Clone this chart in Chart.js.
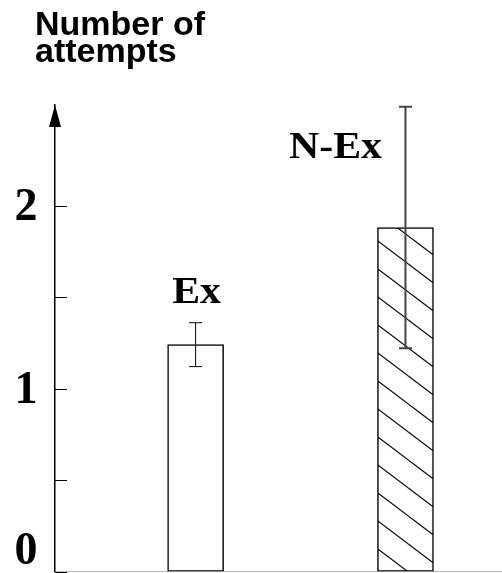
<!DOCTYPE html>
<html>
<head>
<meta charset="utf-8">
<script src="https://cdn.jsdelivr.net/npm/chart.js@4.4.1/dist/chart.umd.min.js"></script>
<style>
body{margin:0;background:#fff}
canvas{display:block}
</style>
</head>
<body>
<canvas id="myChart" width="502" height="573"></canvas>
<script>
const categories = ['Ex', 'N-Ex'];
const attempts = [1.24, 1.88];
const errors = [0.12, 0.66];
const yTickValues = [0, 0.5, 1, 1.5, 2];
const yTickLabels = ['0', '', '1', '', '2'];

// where the category names sit (value on y, pixel shift on x)
const labelAt = [1.47, 2.26];
const labelShift = [1, -70];
const errColors = ['#000', '#444'];
const errWidths = [1, 2];

const canvas = document.getElementById('myChart');
const ctx0 = canvas.getContext('2d');

function makeHatch(ctx){
  const c = document.createElement('canvas');
  c.width = 37; c.height = 28;
  const g = c.getContext('2d');
  g.fillStyle = '#fff';
  g.fillRect(0, 0, 37, 28);
  g.strokeStyle = '#000';
  g.lineWidth = 1.1;
  for (let k = -1; k <= 1; k++) {
    g.beginPath();
    g.moveTo(0, 28 * k);
    g.lineTo(37, 28 + 28 * k);
    g.stroke();
  }
  const p = ctx.createPattern(c, 'repeat');
  p.setTransform(new DOMMatrix().translate(0, 11));
  return p;
}

const extras = {
  id: 'extras',
  afterDatasetsDraw(chart){
    const ctx = chart.ctx;
    const y = chart.scales.y;
    const meta = chart.getDatasetMeta(0);
    ctx.save();
    meta.data.forEach((bar, i) => {
      const top = y.getPixelForValue(attempts[i] + errors[i]);
      const bot = y.getPixelForValue(attempts[i] - errors[i]);
      ctx.strokeStyle = errColors[i];
      ctx.lineWidth = errWidths[i];
      ctx.beginPath();
      ctx.moveTo(bar.x, top); ctx.lineTo(bar.x, bot);
      ctx.moveTo(bar.x - 6.5, top); ctx.lineTo(bar.x + 6.5, top);
      ctx.moveTo(bar.x - 6.5, bot); ctx.lineTo(bar.x + 6.5, bot);
      ctx.stroke();

      // category name
      ctx.save();
      ctx.fillStyle = '#000';
      ctx.font = 'bold 37px "Liberation Serif"';
      ctx.textAlign = 'center';
      ctx.textBaseline = 'alphabetic';
      ctx.translate(bar.x + labelShift[i], y.getPixelForValue(labelAt[i]));
      ctx.scale(1.13, 1);
      ctx.fillText(categories[i], 0, 0);
      ctx.restore();
    });
    ctx.restore();
  },
  afterDraw(chart){
    const ctx = chart.ctx;
    const y = chart.scales.y;
    const area = chart.chartArea;
    const ax = area.left;
    ctx.save();
    // inward tick marks
    ctx.strokeStyle = '#000';
    ctx.lineWidth = 1;
    ctx.beginPath();
    yTickValues.forEach(v => {
      const py = Math.round(y.getPixelForValue(v)) + 0.5;
      ctx.moveTo(ax, py);
      ctx.lineTo(ax + 12, py);
    });
    ctx.stroke();
    // arrow head
    ctx.fillStyle = '#000';
    ctx.beginPath();
    ctx.moveTo(ax, area.top);
    ctx.lineTo(ax - 6, area.top + 22);
    ctx.lineTo(ax + 6, area.top + 22);
    ctx.closePath();
    ctx.fill();
    // tick labels
    ctx.font = 'bold 46px "Liberation Serif"';
    ctx.textAlign = 'center';
    ctx.textBaseline = 'alphabetic';
    yTickValues.forEach((v, i) => {
      if (!yTickLabels[i]) return;
      const py = y.getPixelForValue(v);
      ctx.fillText(yTickLabels[i], ax - 29, Math.min(py + 14, area.bottom - 8));
    });
    ctx.restore();
  }
};

const data = {
  datasets: [{
    label: 'Number of attempts',
    data: categories.map((c, i) => ({x: i, y: attempts[i]})),
    backgroundColor: ['#fff', makeHatch(ctx0)],
    borderColor: '#000',
    borderWidth: 1.5,
    borderSkipped: false,
    barThickness: 56
  }]
};

const config = {
  type: 'bar',
  data: data,
  options: {
    responsive: false,
    animation: false,
    devicePixelRatio: 1,
    layout: {padding: {left: 35, right: 0, top: 0, bottom: 0}},
    plugins: {
      legend: {display: false},
      tooltip: {enabled: false},
      title: {
        display: true,
        text: ['Number of', 'attempts'],
        align: 'start',
        color: '#000',
        font: {family: '"Liberation Sans"', weight: 'bold', size: 34, lineHeight: 27 / 34},
        padding: {top: 12, bottom: 39}
      }
    },
    scales: {
      x: {
        type: 'linear',
        offset: false,
        min: -0.67,
        max: 1.46,
        grid: {display: false, drawTicks: false, offset: false},
        ticks: {display: false},
        border: {display: true, color: '#bbb', width: 1},
        afterFit(scale){ scale.height = 1.5; }
      },
      y: {
        min: 0,
        max: 2.55,
        grid: {display: false, drawTicks: false},
        ticks: {display: false},
        border: {display: true, color: '#000', width: 1.5},
        afterFit(scale){ scale.width = 20; }
      }
    }
  },
  plugins: [extras]
};

const myChart = new Chart(canvas, config);
</script>
</body>
</html>
